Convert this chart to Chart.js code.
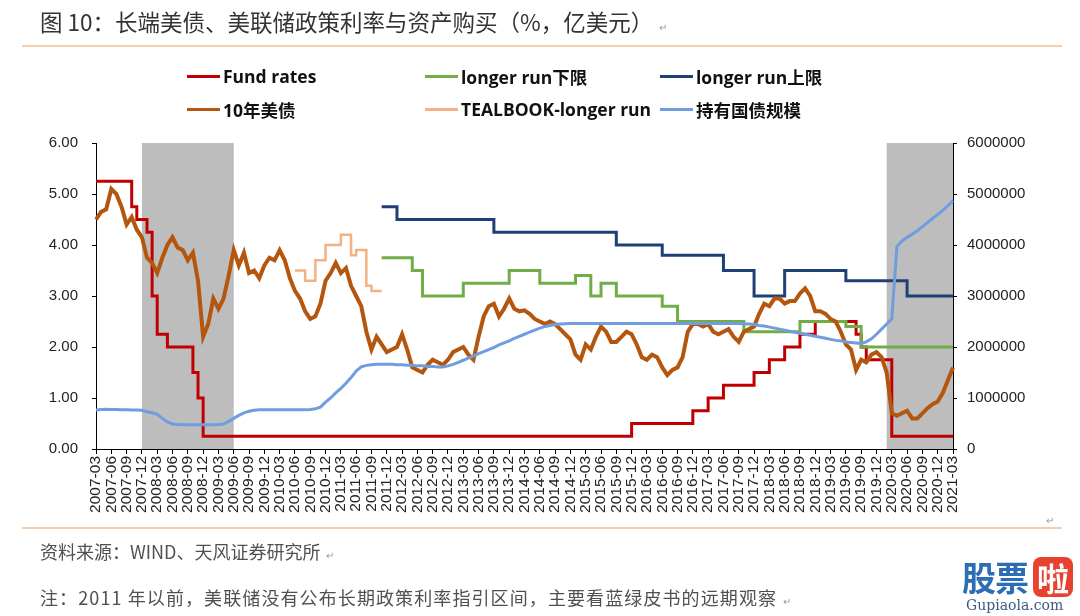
<!DOCTYPE html>
<html>
<head>
<meta charset="utf-8">
<script src="https://cdn.jsdelivr.net/npm/chart.js@4.4.1/dist/chart.umd.min.js"></script>
<style>
  body { margin: 0; width: 1080px; height: 616px; background: #fff; overflow: hidden; position: relative;
         font-family: "Noto Sans CJK SC", sans-serif; }
  #wrap { position: absolute; left: 0; top: 0; width: 1080px; height: 616px; }
  .txt { position: absolute; white-space: nowrap; }
  .title { left: 40px; top: 5px; font-size: 22.5px; color: #333; }
  .mark { font-size: 10px; color: #999; margin-left: 6px; }
  .rule { position: absolute; left: 22px; width: 1040px; height: 2px; background: #f3cfaa; }
  .foot { left: 40px; font-size: 18px; color: #505050; }
  .leg { position: absolute; height: 24px; display: flex; align-items: center; white-space: nowrap;
         font-family: "Open Sans", "Noto Sans CJK SC", sans-serif; font-weight: bold; font-size: 17.5px; color: #111; }
  .leg i { display: inline-block; width: 33px; height: 3px; margin-right: 3px; }
  .wm1 { left: 962px; top: 552px; font-size: 34px; font-weight: bold; color: #2c6db5; letter-spacing: -1px; }
  .wm2 { left: 1033px; top: 557px; width: 40px; height: 40px; border-radius: 8px; background: #e8412f;
         color: #fff; font-size: 32px; font-weight: bold; line-height: 40px; text-align: center; }
  .wm3 { left: 966px; top: 597px; font-size: 14px; color: #3d5a80; font-family: "DejaVu Serif", serif; }
</style>
</head>
<body>
<div id="wrap"><canvas id="myChart" width="1080" height="616"></canvas></div>

<div class="txt title">图 10：长端美债、美联储政策利率与资产购买（%，亿美元）<span class="mark">↵</span></div>
<div class="rule" style="top:45px"></div>
<div id="legend"></div>
<div class="rule" style="top:527px"></div>
<div class="txt mark" style="left:1040px;top:512px;">↵</div>
<div class="txt foot" style="top:538px;">资料来源：WIND、天风证券研究所<span class="mark">↵</span></div>
<div class="txt foot" style="top:584px;letter-spacing:1.1px;">注：2011 年以前，美联储没有公布长期政策利率指引区间，主要看蓝绿皮书的远期观察<span class="mark">↵</span></div>
<div class="txt wm1">股票</div>
<div class="txt wm2">啦</div>
<div class="txt wm3">Gupiaola.com</div>

<script>
// months 2007-03 .. 2021-03
var months = [];
for (var y = 2007; y <= 2021; y++) {
  for (var m = 1; m <= 12; m++) {
    if ((y === 2007 && m < 3) || (y === 2021 && m > 3)) continue;
    months.push(y + '-' + String(m).padStart(2, '0'));
  }
}

// shaded periods (recessions)
var shadeStart = ['2007-12', '2020-02'];
var shadeEnd = ['2009-06', '2021-03'];

// Fund rates (upper bound, %)
var fundRates = [
  5.25,5.25,5.25,5.25,5.25,5.25,5.25,4.75,4.5,4.5,
  4.25,3.0,2.25,2.25,2.0,2.0,2.0,2.0,2.0,1.5,1.0,0.25,
  0.25,0.25,0.25,0.25,0.25,0.25,0.25,0.25,0.25,0.25,0.25,0.25,
  0.25,0.25,0.25,0.25,0.25,0.25,0.25,0.25,0.25,0.25,0.25,0.25,
  0.25,0.25,0.25,0.25,0.25,0.25,0.25,0.25,0.25,0.25,0.25,0.25,
  0.25,0.25,0.25,0.25,0.25,0.25,0.25,0.25,0.25,0.25,0.25,0.25,
  0.25,0.25,0.25,0.25,0.25,0.25,0.25,0.25,0.25,0.25,0.25,0.25,
  0.25,0.25,0.25,0.25,0.25,0.25,0.25,0.25,0.25,0.25,0.25,0.25,
  0.25,0.25,0.25,0.25,0.25,0.25,0.25,0.25,0.25,0.25,0.25,0.5,
  0.5,0.5,0.5,0.5,0.5,0.5,0.5,0.5,0.5,0.5,0.5,0.75,
  0.75,0.75,1.0,1.0,1.0,1.25,1.25,1.25,1.25,1.25,1.25,1.5,
  1.5,1.5,1.75,1.75,1.75,2.0,2.0,2.0,2.25,2.25,2.25,2.5,
  2.5,2.5,2.5,2.5,2.5,2.5,2.5,2.25,2.0,1.75,1.75,1.75,
  1.75,1.75,0.25,0.25,0.25,0.25,0.25,0.25,0.25,0.25,0.25,0.25,
  0.25,0.25,0.25
];

// longer run lower bound (%)
var lrLower = [
  null,null,null,null,null,null,null,null,null,null,
  null,null,null,null,null,null,null,null,null,null,null,null,
  null,null,null,null,null,null,null,null,null,null,null,null,
  null,null,null,null,null,null,null,null,null,null,null,null,
  null,null,null,null,null,null,null,null,null,null,3.75,3.75,
  3.75,3.75,3.75,3.75,3.5,3.5,3.0,3.0,3.0,3.0,3.0,3.0,
  3.0,3.0,3.25,3.25,3.25,3.25,3.25,3.25,3.25,3.25,3.25,3.5,
  3.5,3.5,3.5,3.5,3.5,3.25,3.25,3.25,3.25,3.25,3.25,3.25,
  3.4,3.4,3.4,3.0,3.0,3.25,3.25,3.25,3.0,3.0,3.0,3.0,
  3.0,3.0,3.0,3.0,3.0,2.8,2.8,2.8,2.5,2.5,2.5,2.5,
  2.5,2.5,2.5,2.5,2.5,2.5,2.5,2.5,2.5,2.3,2.3,2.3,
  2.3,2.3,2.3,2.3,2.3,2.3,2.3,2.3,2.5,2.5,2.5,2.5,
  2.5,2.5,2.5,2.5,2.5,2.4,2.4,2.4,2.0,2.0,2.0,2.0,
  2.0,2.0,2.0,2.0,2.0,2.0,2.0,2.0,2.0,2.0,2.0,2.0,
  2.0,2.0,2.0
];

// longer run upper bound (%)
var lrUpper = [
  null,null,null,null,null,null,null,null,null,null,
  null,null,null,null,null,null,null,null,null,null,null,null,
  null,null,null,null,null,null,null,null,null,null,null,null,
  null,null,null,null,null,null,null,null,null,null,null,null,
  null,null,null,null,null,null,null,null,null,null,4.75,4.75,
  4.75,4.5,4.5,4.5,4.5,4.5,4.5,4.5,4.5,4.5,4.5,4.5,
  4.5,4.5,4.5,4.5,4.5,4.5,4.5,4.5,4.25,4.25,4.25,4.25,
  4.25,4.25,4.25,4.25,4.25,4.25,4.25,4.25,4.25,4.25,4.25,4.25,
  4.25,4.25,4.25,4.25,4.25,4.25,4.25,4.25,4.0,4.0,4.0,4.0,
  4.0,4.0,4.0,4.0,4.0,3.8,3.8,3.8,3.8,3.8,3.8,3.8,
  3.8,3.8,3.8,3.8,3.8,3.5,3.5,3.5,3.5,3.5,3.5,3.0,
  3.0,3.0,3.0,3.0,3.0,3.5,3.5,3.5,3.5,3.5,3.5,3.5,
  3.5,3.5,3.5,3.5,3.5,3.3,3.3,3.3,3.3,3.3,3.3,3.3,
  3.3,3.3,3.3,3.3,3.3,3.0,3.0,3.0,3.0,3.0,3.0,3.0,
  3.0,3.0,3.0
];

// 10-year Treasury yield (%), monthly readings
var us10y = [
  4.5,4.65,4.7,5.1,5.0,4.75,4.4,4.55,4.3,4.15,
  3.75,3.65,3.45,3.75,4.0,4.15,3.95,3.9,3.7,3.85,3.3,2.2,
  2.45,2.95,2.75,2.95,3.4,3.9,3.6,3.85,3.45,3.5,3.35,3.6,
  3.75,3.7,3.9,3.7,3.35,3.1,2.95,2.7,2.55,2.6,2.85,3.3,
  3.45,3.65,3.45,3.55,3.2,3.0,2.8,2.3,1.95,2.2,2.05,1.9,
  1.95,2.0,2.25,1.95,1.6,1.55,1.5,1.65,1.75,1.7,1.65,1.75,
  1.9,1.95,2.0,1.85,1.75,2.2,2.6,2.8,2.85,2.6,2.75,2.95,
  2.75,2.7,2.72,2.65,2.55,2.5,2.45,2.5,2.45,2.35,2.25,2.15,
  1.85,1.75,2.05,1.95,2.2,2.4,2.3,2.1,2.1,2.2,2.3,2.25,
  2.05,1.8,1.75,1.85,1.8,1.6,1.45,1.55,1.6,1.8,2.3,2.45,
  2.45,2.4,2.45,2.3,2.25,2.3,2.35,2.2,2.1,2.3,2.35,2.4,
  2.65,2.85,2.8,2.95,2.95,2.85,2.9,2.9,3.05,3.15,3.0,2.7,
  2.7,2.65,2.55,2.5,2.3,2.05,1.95,1.55,1.75,1.7,1.85,1.9,
  1.8,1.5,0.7,0.65,0.7,0.75,0.6,0.6,0.7,0.8,0.88,0.93,
  1.1,1.35,1.6
];

// TEALBOOK longer run (%), 2010-06 .. 2011-11
var tealbook = [
  null,null,null,null,null,null,null,null,null,null,
  null,null,null,null,null,null,null,null,null,null,null,null,
  null,null,null,null,null,null,null,null,null,null,null,null,
  null,null,null,null,null,3.5,3.5,3.3,3.3,3.7,3.7,4.0,
  4.0,4.0,4.2,4.2,3.8,3.9,3.9,3.2,3.1,3.1,3.1
];

// Treasury holdings (right axis)
var holdings = [
  765000,775000,780000,775000,775000,770000,770000,765000,765000,760000,
  730000,710000,680000,600000,530000,490000,478000,476000,476000,476000,476000,476000,
  476000,476000,480000,490000,540000,600000,660000,710000,740000,760000,770000,770000,
  770000,770000,770000,770000,770000,770000,770000,770000,775000,790000,820000,920000,
  1000000,1100000,1190000,1290000,1400000,1530000,1610000,1640000,1650000,1660000,1660000,1660000,
  1660000,1650000,1650000,1640000,1640000,1630000,1630000,1620000,1620000,1610000,1610000,1630000,
  1660000,1700000,1740000,1780000,1820000,1870000,1910000,1950000,1990000,2040000,2080000,2120000,
  2170000,2210000,2250000,2290000,2330000,2370000,2400000,2420000,2440000,2450000,2455000,2460000,
  2460000,2460000,2460000,2460000,2460000,2460000,2460000,2460000,2460000,2460000,2460000,2460000,
  2460000,2460000,2460000,2460000,2460000,2460000,2460000,2460000,2460000,2460000,2460000,2460000,
  2460000,2460000,2460000,2460000,2460000,2460000,2460000,2460000,2460000,2455000,2450000,2440000,
  2420000,2410000,2390000,2370000,2350000,2330000,2310000,2290000,2270000,2250000,2230000,2210000,
  2190000,2170000,2150000,2130000,2120000,2100000,2090000,2080000,2070000,2100000,2160000,2250000,
  2350000,2450000,2550000,3970000,4080000,4150000,4210000,4280000,4360000,4440000,4520000,4600000,
  4680000,4770000,4870000
];

var leftTicks = [0, 1, 2, 3, 4, 5, 6];
var rightTicks = [0, 1000000, 2000000, 3000000, 4000000, 5000000, 6000000];

Chart.defaults.font.family = '"Liberation Sans", Arial, sans-serif';
Chart.defaults.font.size = 15;
Chart.defaults.color = '#222';

var shadePlugin = {
  id: 'shade',
  beforeDraw: function(chart) {
    var ctx = chart.ctx, area = chart.chartArea, xs = chart.scales.x;
    ctx.save();
    ctx.fillStyle = '#bdbdbd';
    for (var i = 0; i < shadeStart.length; i++) {
      var x0 = xs.getPixelForValue(months.indexOf(shadeStart[i]));
      var x1 = xs.getPixelForValue(months.indexOf(shadeEnd[i]));
      ctx.fillRect(x0, area.top, x1 - x0, area.bottom - area.top);
    }
    ctx.restore();
  }
};

var series = [
  { label: 'Fund rates', data: fundRates, color: '#c00000', width: 3, stepped: true, order: 5, axis: 'y' },
  { label: 'longer run下限', data: lrLower, color: '#70ad47', width: 3, stepped: true, order: 4, axis: 'y' },
  { label: 'longer run上限', data: lrUpper, color: '#203f74', width: 3, stepped: true, order: 3, axis: 'y' },
  { label: '10年美债', data: us10y, color: '#b5560f', width: 4, stepped: false, order: 2, axis: 'y' },
  { label: 'TEALBOOK-longer run', data: tealbook, color: '#f4b183', width: 2.5, stepped: true, order: 1, axis: 'y' },
  { label: '持有国债规模', data: holdings, color: '#6f9ddf', width: 3, stepped: false, order: 0, axis: 'y2' }
];

// html legend, three columns
var legX = [187, 425, 660];
var legY = [64, 97];
var legend = document.getElementById('legend');
series.forEach(function(s, i) {
  var d = document.createElement('div');
  d.className = 'leg';
  d.style.left = legX[i % 3] + 'px';
  d.style.top = legY[Math.floor(i / 3)] + 'px';
  d.innerHTML = '<i style="background:' + s.color + '"></i>' + s.label;
  legend.appendChild(d);
});

var ctx = document.getElementById('myChart').getContext('2d');

var myChart = new Chart(ctx, {
  type: 'line',
  data: {
    labels: months,
    datasets: series.map(function(s) {
      return {
        label: s.label,
        data: s.data,
        borderColor: s.color,
        backgroundColor: s.color,
        borderWidth: s.width,
        stepped: s.stepped,
        order: s.order,
        yAxisID: s.axis,
        pointRadius: 0,
        tension: 0,
        fill: false
      };
    })
  },
  options: {
    responsive: false,
    animation: false,
    events: [],
    layout: { padding: { left: 36, right: 27, top: 143, bottom: 87 } },
    plugins: { legend: { display: false }, tooltip: { enabled: false } },
    scales: {
      x: {
        grid: { display: true, drawOnChartArea: false, tickLength: 5, color: '#000' },
        border: { color: '#000', width: 1 },
        ticks: {
          autoSkip: false,
          minRotation: 90,
          maxRotation: 90,
          padding: 2,
          font: { size: 15.5 },
          callback: function(v, i) { return i % 3 === 0 ? this.getLabelForValue(v) : null; }
        },
        afterFit: function(scale) { scale.height = 80; }
      },
      y: {
        position: 'left',
        min: 0, max: 6,
        grid: { display: true, drawOnChartArea: false, tickLength: 4, color: '#000' },
        border: { color: '#000', width: 1 },
        afterBuildTicks: function(scale) { scale.ticks = leftTicks.map(function(v) { return { value: v }; }); },
        ticks: { padding: 14, callback: function(v) { return Number(v).toFixed(2); } },
        afterFit: function(scale) { scale.width = 60; }
      },
      y2: {
        position: 'right',
        min: 0, max: 6000000,
        grid: { display: true, drawOnChartArea: false, tickLength: 4, color: '#000' },
        border: { color: '#000', width: 1 },
        afterBuildTicks: function(scale) { scale.ticks = rightTicks.map(function(v) { return { value: v }; }); },
        ticks: { padding: 10, callback: function(v) { return String(v); } },
        afterFit: function(scale) { scale.width = 100; }
      }
    }
  },
  plugins: [shadePlugin]
});
</script>
</body>
</html>
